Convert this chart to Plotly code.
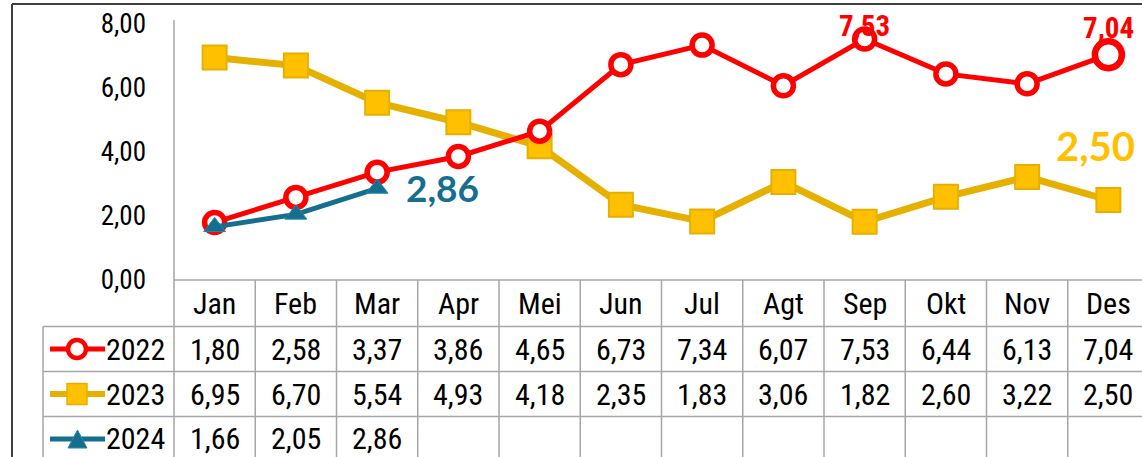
import plotly.graph_objects as go

months = ["Jan", "Feb", "Mar", "Apr", "Mei", "Jun", "Jul", "Agt", "Sep", "Okt", "Nov", "Des"]
v2022 = [1.80, 2.58, 3.37, 3.86, 4.65, 6.73, 7.34, 6.07, 7.53, 6.44, 6.13, 7.04]
v2023 = [6.95, 6.70, 5.54, 4.93, 4.18, 2.35, 1.83, 3.06, 1.82, 2.60, 3.22, 2.50]
v2024 = [1.66, 2.05, 2.86]
years = ["2022", "2023", "2024"]
yticks = [0, 2, 4, 6, 8]

RED = "#FF0000"
GOLD = "#FFC000"
GOLD_LINE = "#E6B000"
TEAL = "#156E8E"
GRID = "#A6A6A6"
BORDER = "#404040"
NARROW = "Roboto Condensed, Liberation Sans, Arial, sans-serif"
BOLD_C = "Lato, Open Sans, sans-serif"

W, H = 1142, 457
L, R, T, B = 174, 0, 21, 177
PW, PH = W - L - R, H - T - B
COLW = 81.25
XMIN = -0.5
XMAX = XMIN + PW / COLW
YMAX = PH / 32.0


def px(x):
    return (x - L) / PW


def py(y):
    return (H - B - y) / PH


def fmt(v):
    return f"{v:.2f}".replace(".", ",")


x = list(range(len(months)))
fig = go.Figure()

fig.add_trace(go.Scatter(
    x=x, y=v2023, mode="lines+markers", name="2023",
    line=dict(color=GOLD_LINE, width=7),
    marker=dict(symbol="square", size=24, color=GOLD, line=dict(color=GOLD_LINE, width=2)),
    cliponaxis=False,
))
sizes22 = [20] * 11 + [27]
lw22 = [5.5] * 11 + [6.5]
fig.add_trace(go.Scatter(
    x=x, y=v2022, mode="lines+markers", name="2022",
    line=dict(color=RED, width=5),
    marker=dict(symbol="circle", size=sizes22, color="white", opacity=1,
                line=dict(color=RED, width=lw22)),
    cliponaxis=False,
))
fig.add_trace(go.Scatter(
    x=x[:len(v2024)], y=v2024, mode="lines+markers", name="2024",
    line=dict(color=TEAL, width=5),
    marker=dict(symbol="triangle-up", size=19, color=TEAL, line=dict(color="#2A86A8", width=1)),
    cliponaxis=False,
))

shapes = []


def hline(y, x0, x1, color=GRID, w=1.5):
    shapes.append(dict(type="line", xref="paper", yref="paper", x0=px(x0), x1=px(x1),
                       y0=py(y), y1=py(y), line=dict(color=color, width=w)))


def vline(xx, y0, y1, color=GRID, w=1.5):
    shapes.append(dict(type="line", xref="paper", yref="paper", x0=px(xx), x1=px(xx),
                       y0=py(y0), y1=py(y1), line=dict(color=color, width=w)))


rows = [280, 326.5, 371.5, 416.5, 470]
hline(rows[0], L, W + 10)
for r in rows[1:4]:
    hline(r, 43, W + 10)
vline(43, rows[1], 470)
for k in range(len(months) + 1):
    xx = L + k * COLW
    vline(xx, rows[0] if k else 20, 470)

# outer border
hline(4, 12, W + 10, BORDER, 2)
vline(12, 4, 470, BORDER, 2)

annotations = []
TS = 30
# header months
for i, m in enumerate(months):
    annotations.append(dict(x=i, y=py(303), xref="x", yref="paper", text=m, showarrow=False,
                            font=dict(family=NARROW, size=TS, color="black"),
                            xanchor="center", yanchor="middle"))
series = [v2022, v2023, v2024]
colors = [RED, GOLD, TEAL]
for ri, vals in enumerate(series):
    cy = (rows[ri + 1] + rows[ri + 2]) / 2 if ri < 2 else 439
    for i, v in enumerate(vals):
        annotations.append(dict(x=i, y=py(cy), xref="x", yref="paper", text=fmt(v), showarrow=False,
                                font=dict(family=NARROW, size=TS, color="black"),
                                xanchor="center", yanchor="middle"))
    annotations.append(dict(x=px(167), y=py(cy), xref="paper", yref="paper", text=years[ri],
                            showarrow=False, font=dict(family=NARROW, size=TS, color="black"),
                            xanchor="right", yanchor="middle"))
    # legend key
    lc = colors[ri] if ri != 1 else GOLD_LINE
    shapes.append(dict(type="line", xref="paper", yref="paper", x0=px(50), x1=px(105),
                       y0=py(cy), y1=py(cy), line=dict(color=lc, width=6 if ri == 1 else 5)))
    if ri == 0:
        shapes.append(dict(type="circle", xref="paper", yref="paper", x0=px(68), x1=px(86),
                           y0=py(cy - 9), y1=py(cy + 9), fillcolor="white", line=dict(color=RED, width=4.5)))
    elif ri == 1:
        shapes.append(dict(type="rect", xref="paper", yref="paper", x0=px(67), x1=px(87),
                           y0=py(cy - 10.5), y1=py(cy + 10.5), fillcolor=GOLD, line=dict(color=GOLD_LINE, width=1.5)))
    else:
        x0, x1, xm = px(68), px(87), px(77.5)
        y0, y1 = py(cy + 9), py(cy - 9)
        shapes.append(dict(type="path", xref="paper", yref="paper",
                           path=f"M {x0} {y0} L {x1} {y0} L {xm} {y1} Z",
                           fillcolor=TEAL, line=dict(color="#2A86A8", width=1)))

# data labels
annotations.append(dict(x=8, y=v2022[8], xref="x", yref="y", text=f"<b>{fmt(v2022[8])}</b>", showarrow=False,
                        font=dict(family=NARROW, size=29, color=RED), yshift=13))
annotations.append(dict(x=11, y=v2022[11], xref="x", yref="y", text=f"<b>{fmt(v2022[11])}</b>", showarrow=False,
                        font=dict(family=NARROW, size=29, color=RED), yshift=27))
annotations.append(dict(x=2, y=v2024[2], xref="x", yref="y", text=f"<b>{fmt(v2024[2])}</b>", showarrow=False,
                        font=dict(family=BOLD_C, size=37, color=TEAL), xanchor="left", xshift=27, yshift=1))
annotations.append(dict(x=11, y=v2023[11], xref="x", yref="y", text=f"<b>{fmt(v2023[11])}</b>", showarrow=False,
                        font=dict(family=BOLD_C, size=40, color=GOLD), xanchor="center", xshift=-13, yshift=54))

fig.update_layout(
    width=W, height=H,
    margin=dict(l=L, r=R, t=T, b=B, pad=0),
    paper_bgcolor="white", plot_bgcolor="white",
    showlegend=False,
    separators=",.",
    shapes=shapes,
    annotations=annotations,
    xaxis=dict(range=[XMIN, XMAX], showgrid=False, zeroline=False, showticklabels=False,
               showline=False, fixedrange=True),
    yaxis=dict(range=[0, YMAX], tickvals=yticks, tickformat=".2f", showgrid=False, zeroline=False,
               showline=False, ticks="", ticklabelstandoff=27,
               tickfont=dict(family=NARROW, size=27, color="black"), fixedrange=True),
)

fig.write_html("out.html", config={"displayModeBar": False},
               post_script="document.body.style.margin='0px';")
